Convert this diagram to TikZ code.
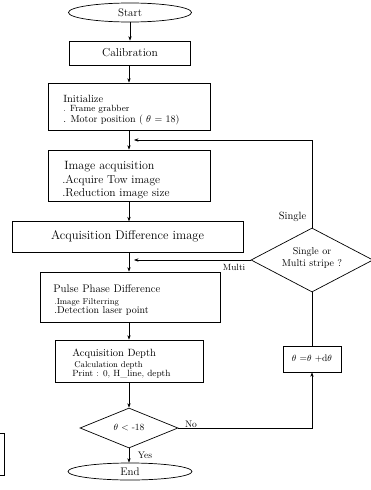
\documentclass[tikz,border=0pt]{standalone}
\usetikzlibrary{shapes.geometric,arrows.meta}
\begin{document}
\begin{tikzpicture}[x=1pt,y=-1pt,line width=0.7pt,
  box/.style={draw,rectangle,inner sep=0pt},
  term/.style={draw,ellipse,inner sep=0pt},
  dia/.style={draw,diamond,inner sep=0pt},
  ln/.style={inner sep=0pt,anchor=base west},
  lbl/.style={inner sep=0pt},
  arr/.style={-{Stealth[length=4.5pt,width=3.4pt]}},
  fnt/.style={font=\fontsize{#1}{#1}\selectfont}]
\useasboundingbox (0,0) rectangle (371,490);

% terminals
\node[term,minimum width=123pt,minimum height=19pt,fnt=11] (start) at (130,12.5) {Start};
\node[term,minimum width=124pt,minimum height=17pt,fnt=11] (end) at (130,471.5) {End};

% process boxes
\node[box,minimum width=121pt,minimum height=24pt,fnt=11.5] (cal) at (130,53) {Calibration};
\node[box,minimum width=162pt,minimum height=47pt] (init) at (129,106.5) {};
\node[box,minimum width=162pt,minimum height=51pt] (imgacq) at (129,175.5) {};
\node[box,minimum width=231pt,minimum height=31pt,fnt=12.5] (acqdiff) at (127.5,236.5) {Acquisition Difference image};
\node[box,minimum width=180pt,minimum height=50pt] (pulse) at (130,297) {};
\node[box,minimum width=148pt,minimum height=42pt] (depth) at (129,361) {};
\node[box,minimum width=58pt,minimum height=26pt] (inc) at (312,359) {};
\node[lbl,fnt=9.5] (inct) at (inc) {$\theta$ =$\theta$ +d$\theta$};

% decisions
\node[dia,minimum width=98pt,minimum height=40pt] (cond) at (129,428) {};
\node[lbl,fnt=9.5] (condt) at (cond) {$\theta$ < -18};
\node[dia,minimum width=122pt,minimum height=64pt] (sm) at (312,260) {};
\node[lbl,fnt=10,align=center] (smt) at (312,258) {Single or\\[2pt]Multi stripe ?};

% texts inside boxes
\node[ln,fnt=10.5] (i1) at (63,102) {Initialize};
\node[ln,fnt=9] (i2) at (63,111.8) {. Frame grabber};
\node[ln,fnt=10] (i3) at (63,122.5) {. Motor position ( $\theta$ = 18)};

\node[ln,fnt=12] (a1) at (64,169) {Image acquisition};
\node[ln,fnt=11.5] (a2) at (62,183.5) {.Acquire Tow image};
\node[ln,fnt=11.5] (a3) at (62,196.5) {.Reduction image size};

\node[ln,fnt=11] (p1) at (53,292.5) {Pulse Phase Difference};
\node[ln,fnt=8.5] (p2) at (54,304.5) {.Image Filterring};
\node[ln,fnt=10] (p3) at (54,313) {.Detection laser point};

\node[ln,fnt=10.5] (d1) at (72,356.5) {Acquisition Depth};
\node[ln,fnt=8.5] (d2) at (74,367) {Calculation depth};
\node[ln,fnt=9] (d3) at (72,376.5) {Print : 0, H\_line, depth};

% labels
\node[lbl,fnt=10.5] (lsingle) at (292.5,217) {Single};
\node[lbl,fnt=9] (lmulti) at (234,267) {Multi};
\node[lbl,fnt=9.5] (lno) at (191,424) {No};
\node[lbl,fnt=9.5] (lyes) at (145,455) {Yes};

% free ends
\coordinate (fbend) at (134,140);
\coordinate (mend) at (134,262);

% connectors
\draw[arr] (start.south -| cal) -- (cal.north);
\draw[arr] (cal.south -| init) -- (init.north);
\draw[arr] (init.south) -- (imgacq.north);
\draw[arr] (imgacq.south -| acqdiff.south) ++(1.5,0) -- ++(0,20);
\draw[arr] (acqdiff.south -| pulse) ++(-1,0) -- (pulse.north -| 129,0);
\draw[arr] (pulse.south -| depth) -- (depth.north);
\draw[arr] (depth.south) -- (cond.north);
\draw[arr] (cond.south) -- (end.north -| cond);
\draw[arr] (cond.east) -| (inc.south);
\draw (inc.north) -- (sm.south);
\draw[arr] (sm.north) |- (fbend);
\draw[arr] (sm.west) -- (sm.west -| mend);

% fragment of neighbouring figure at the left edge
\begin{scope}
\clip (0,0) rectangle (371,490);
\draw (-10,433) -- (4,433) -- (4,475) -- (-10,475);
\end{scope}
\end{tikzpicture}
\end{document}
